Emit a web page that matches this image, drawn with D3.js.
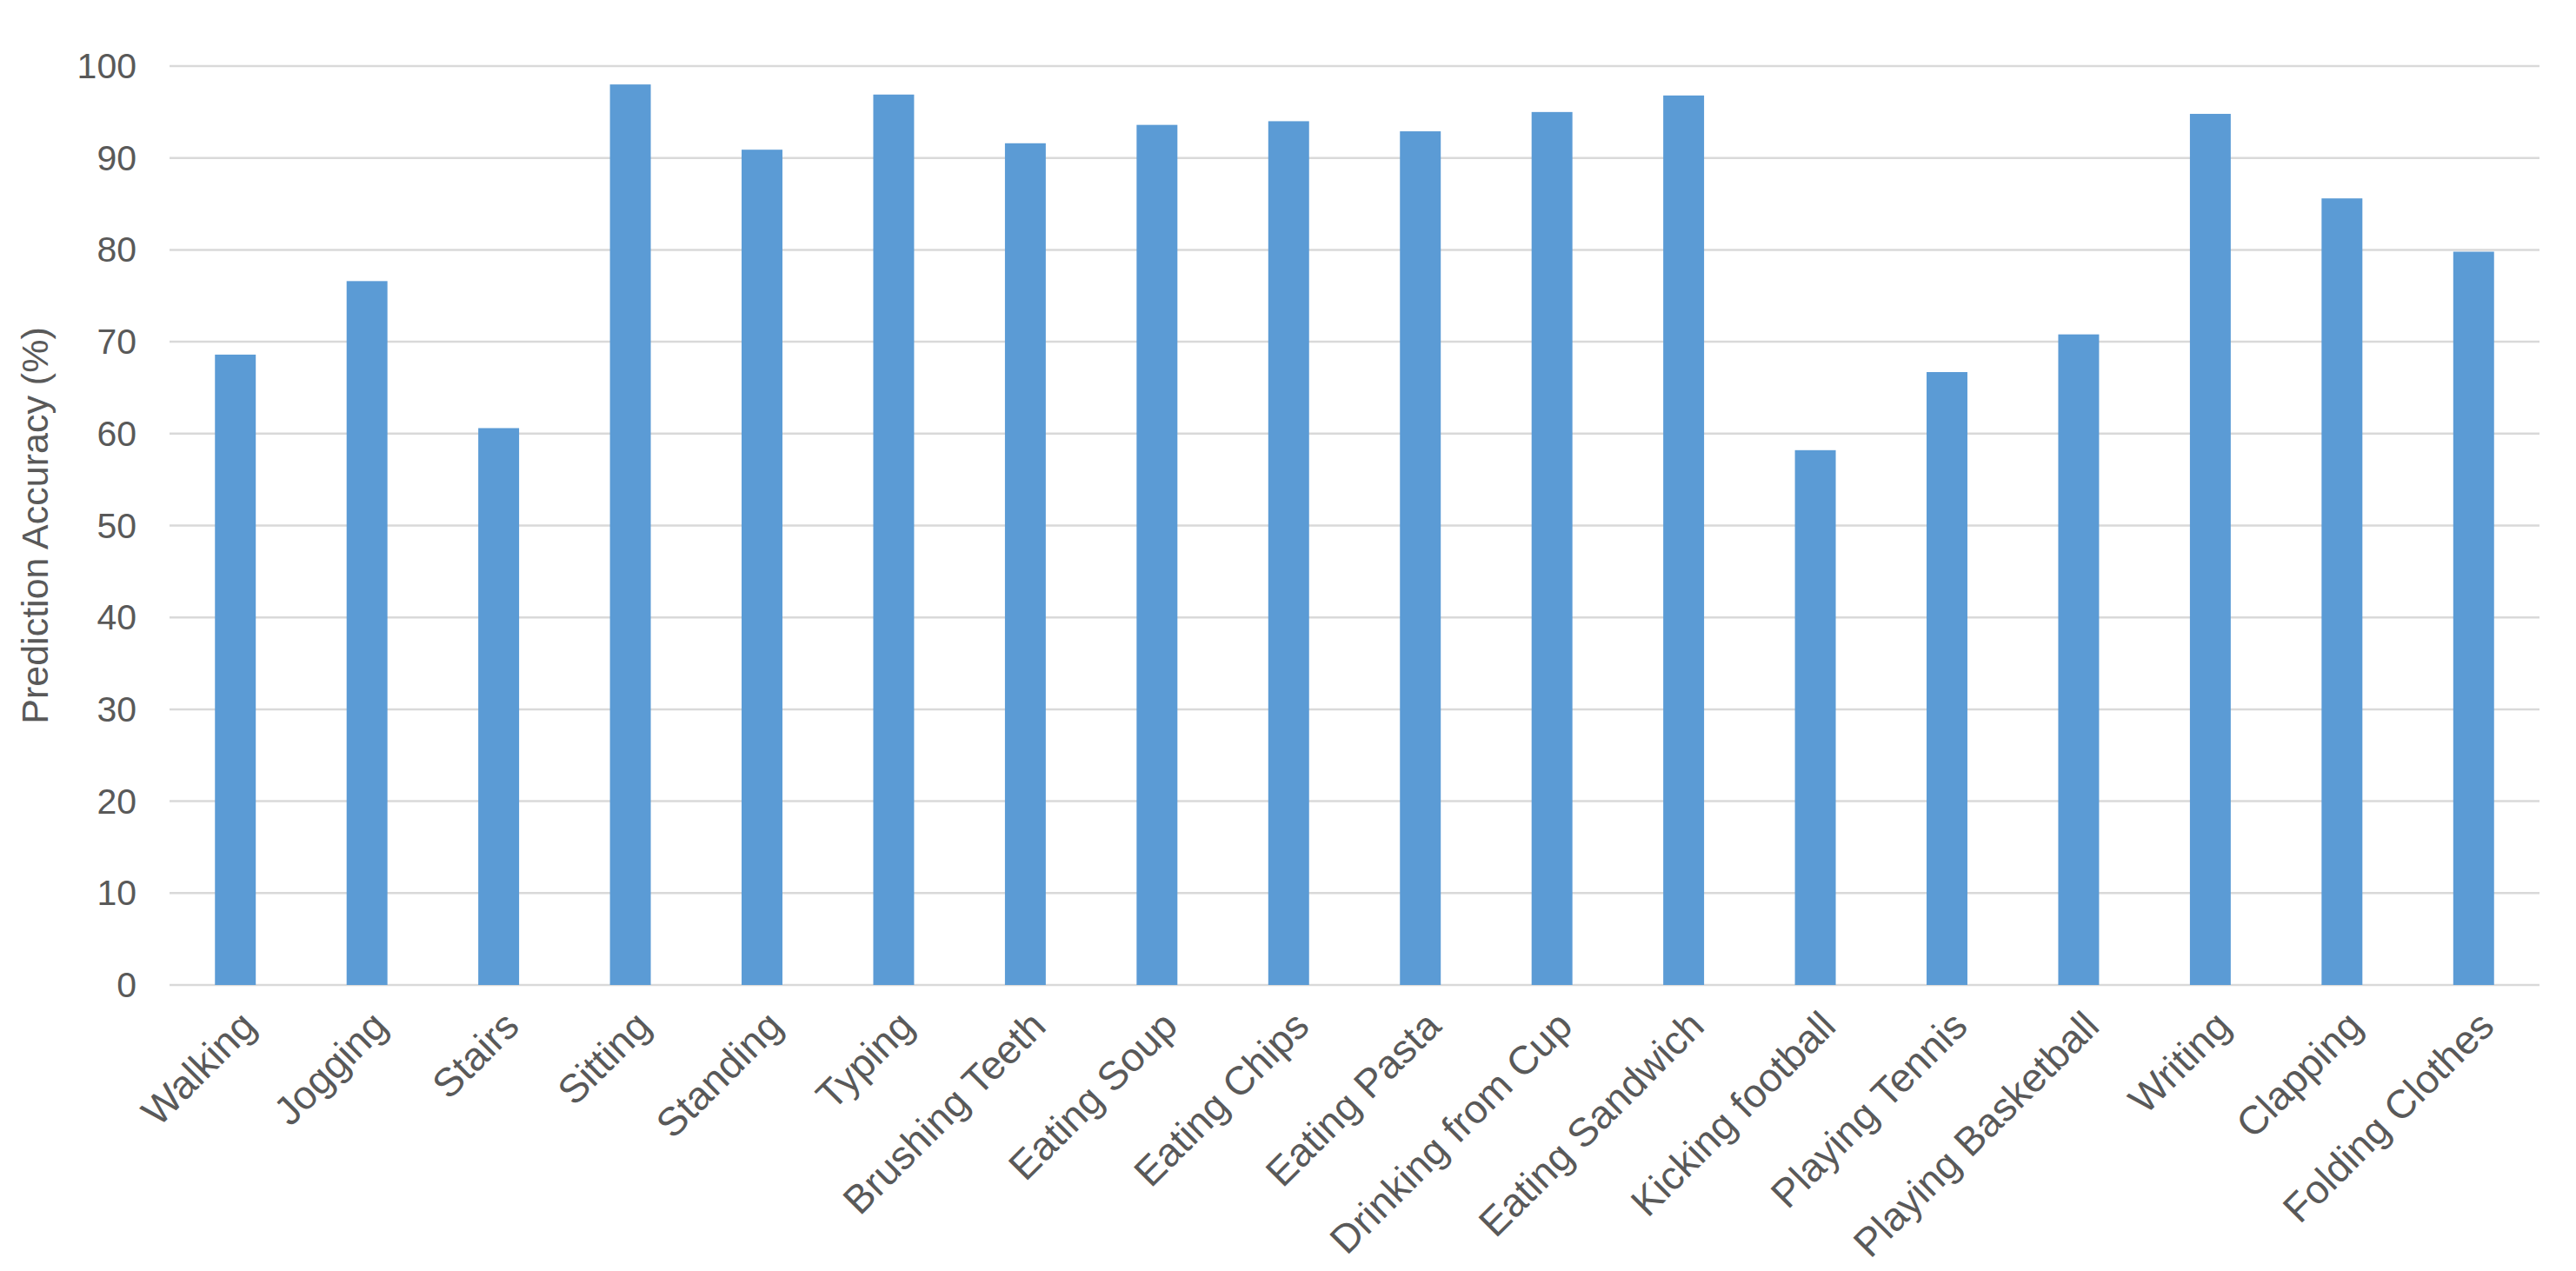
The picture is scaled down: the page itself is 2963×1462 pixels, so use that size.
<!DOCTYPE html>
<html>
<head>
<meta charset="utf-8">
<script src="https://cdn.jsdelivr.net/npm/d3@7"></script>
<style>
  html, body { margin: 0; padding: 0; background: #ffffff; }
  svg { display: block; font-family: "Liberation Sans", Arial, sans-serif; }
</style>
</head>
<body>
<svg id="chart" width="2963" height="1462"></svg>
<script>
const categories = ["Walking", "Jogging", "Stairs", "Sitting", "Standing", "Typing", "Brushing Teeth",
  "Eating Soup", "Eating Chips", "Eating Pasta", "Drinking from Cup", "Eating Sandwich",
  "Kicking football", "Playing Tennis", "Playing Basketball", "Writing", "Clapping", "Folding Clothes"];
const accuracy = [68.6, 76.6, 60.6, 98.0, 90.9, 96.9, 91.6, 93.6, 94.0, 92.9, 95.0, 96.8,
  58.2, 66.7, 70.8, 94.8, 85.6, 79.8];
const yTicks = [0, 10, 20, 30, 40, 50, 60, 70, 80, 90, 100];
const yTitle = "Prediction Accuracy (%)";

(function () {
const svg = d3.select("#chart");
const plotLeft = 195, plotRight = 2921, plotTop = 76, plotBottom = 1133;

const x = d3.scaleBand().domain(categories).range([plotLeft, plotRight]).paddingInner(0.69).paddingOuter(0.345);
const y = d3.scaleLinear().domain([0, 100]).range([plotBottom, plotTop]);

// gridlines
svg.append("g").selectAll("line").data(yTicks).join("line")
  .attr("x1", plotLeft).attr("x2", plotRight)
  .attr("y1", d => y(d)).attr("y2", d => y(d))
  .attr("stroke", "#d9d9d9").attr("stroke-width", 2.5);

// bars
svg.append("g").selectAll("rect").data(categories).join("rect")
  .attr("x", d => x(d))
  .attr("width", x.bandwidth())
  .attr("y", (d, i) => y(accuracy[i]))
  .attr("height", (d, i) => y(0) - y(accuracy[i]))
  .attr("fill", "#5b9bd5");

// y tick labels
svg.append("g").selectAll("text").data(yTicks).join("text")
  .attr("x", 157).attr("y", d => y(d))
  .attr("text-anchor", "end").attr("dominant-baseline", "central")
  .attr("font-size", 41).attr("fill", "#595959")
  .text(d => d);

// x labels
svg.append("g").selectAll("text").data(categories).join("text")
  .attr("transform", d => `translate(${x(d) + x.bandwidth() / 2 + 26},${plotBottom + 50}) rotate(-45)`)
  .attr("text-anchor", "end")
  .attr("font-size", 46).attr("fill", "#595959")
  .text(d => d);

// y title
svg.append("text")
  .attr("transform", `translate(55,${(plotTop + plotBottom) / 2}) rotate(-90)`)
  .attr("text-anchor", "middle")
  .attr("font-size", 43).attr("fill", "#595959")
  .text(yTitle);
})();
</script>
</body>
</html>
